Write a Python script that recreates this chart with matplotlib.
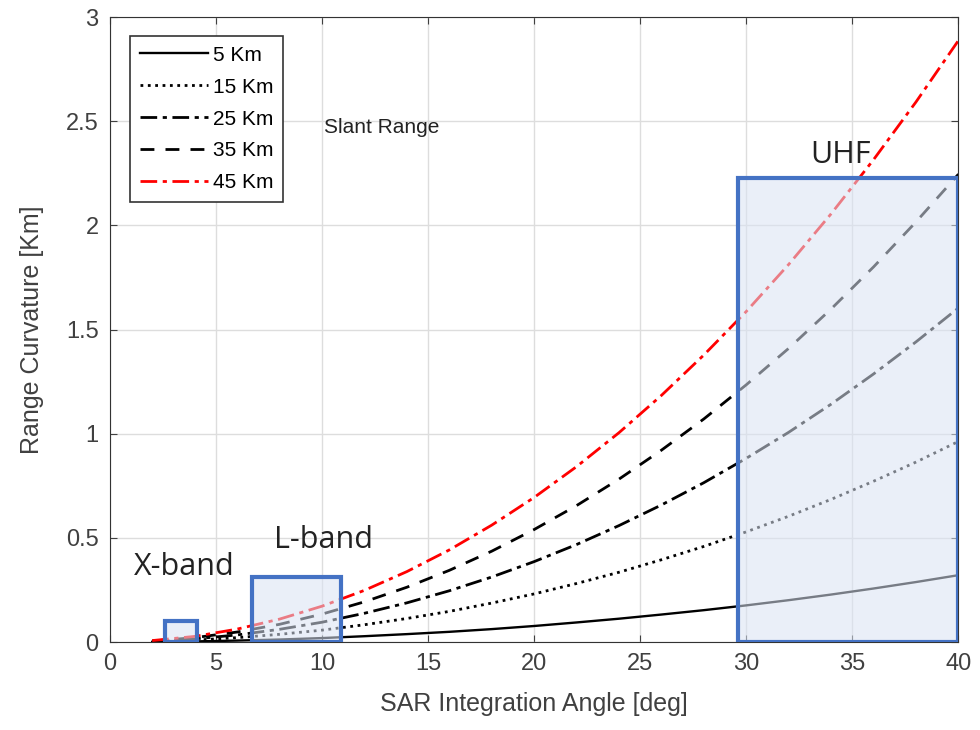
import matplotlib.pyplot as plt
from matplotlib.patches import Rectangle

# integration angle [deg] and range curvature [Km]
angle = [2, 4, 6, 8, 10, 12, 14, 16, 18, 20, 22, 24, 26, 28, 30, 32, 34, 36, 38, 40]
rc_5 = [0.001, 0.003, 0.007, 0.012, 0.019, 0.028, 0.038, 0.049, 0.062, 0.077,
        0.094, 0.112, 0.132, 0.153, 0.176, 0.201, 0.228, 0.257, 0.288, 0.321]
rc_15 = [0.002, 0.009, 0.021, 0.037, 0.057, 0.083, 0.113, 0.147, 0.187, 0.231,
         0.281, 0.335, 0.395, 0.459, 0.529, 0.604, 0.685, 0.772, 0.864, 0.963]
rc_25 = [0.004, 0.015, 0.034, 0.061, 0.095, 0.138, 0.188, 0.246, 0.312, 0.386,
         0.468, 0.559, 0.658, 0.765, 0.882, 1.007, 1.142, 1.287, 1.441, 1.604]
rc_35 = [0.005, 0.021, 0.048, 0.085, 0.134, 0.193, 0.263, 0.344, 0.436, 0.540,
         0.655, 0.782, 0.921, 1.071, 1.235, 1.410, 1.599, 1.801, 2.017, 2.246]
rc_45 = [0.007, 0.027, 0.062, 0.110, 0.172, 0.248, 0.338, 0.442, 0.561, 0.694,
         0.842, 1.005, 1.184, 1.378, 1.587, 1.813, 2.056, 2.316, 2.593, 2.888]

# band boxes: (name, angle start, angle end, curvature top)
bands = [('X-band', 2.6, 4.1, 0.10),
         ('L-band', 6.7, 10.9, 0.31),
         ('UHF', 29.6, 40.0, 2.23)]
band_labels = {'X-band': (1.15, 0.32), 'L-band': (7.75, 0.45), 'UHF': (33.0, 2.30)}

plt.rcParams['font.family'] = ['Liberation Sans', 'DejaVu Sans']
fig = plt.figure(figsize=(9.8, 7.3), dpi=100)
ax = fig.add_axes([0.112, 0.1205, 0.866, 0.856])

ax.plot(angle, rc_5, color='black', linestyle='-', linewidth=1.7, label='5 Km')
ax.plot(angle, rc_15, color='black', linestyle=':', linewidth=2, label='15 Km')
ax.plot(angle, rc_25, color='black', linestyle=(0, (6, 2, 1.5, 2)), linewidth=2, label='25 Km')
ax.plot(angle, rc_35, color='black', linestyle=(0, (5, 4)), linewidth=2, label='35 Km')
ax.plot(angle, rc_45, color='red', linestyle=(0, (6, 2, 1.5, 2)), linewidth=2, label='45 Km')

# blue boxes on top of the curves
for name, x0, x1, top in bands:
    ax.add_patch(Rectangle((x0, 0), x1 - x0, top, facecolor='#dae3f3', alpha=0.55,
                           edgecolor='none', zorder=5))
    ax.add_patch(Rectangle((x0, 0), x1 - x0, top, facecolor='none',
                           edgecolor='#4472c4', linewidth=3, zorder=6))
    lx, ly = band_labels[name]
    ax.text(lx, ly, name, fontsize=22, family=['Open Sans', 'DejaVu Sans'],
            color='#222222', zorder=7)

ax.text(10.1, 2.47, 'Slant Range', fontsize=15, color='#222222', va='center')

ax.set_xlim(0, 40)
ax.set_ylim(0, 3)
ax.set_xticks(range(0, 41, 5))
ax.set_yticks([0, 0.5, 1, 1.5, 2, 2.5, 3])
ax.set_yticklabels(['0', '0.5', '1', '1.5', '2', '2.5', '3'])
ax.tick_params(labelsize=17, colors='#404040', direction='in', length=5,
               top=True, right=True, pad=8)
ax.set_xlabel('SAR Integration Angle [deg]', fontsize=18, color='#404040', labelpad=12)
ax.set_ylabel('Range Curvature [Km]', fontsize=18, color='#404040', labelpad=16)
ax.grid(True, color='#dddddd', linewidth=1)
for s in ax.spines.values():
    s.set_color('#333333')

leg = ax.legend(loc='upper left', fontsize=15, handlelength=3.3, handletextpad=0.2,
                labelspacing=0.62, borderpad=0.45, fancybox=False, framealpha=1,
                bbox_to_anchor=(0.012, 0.986))
leg.get_frame().set_edgecolor('#333333')
leg.get_frame().set_linewidth(1.2)

fig.savefig('out.png', dpi=100)
